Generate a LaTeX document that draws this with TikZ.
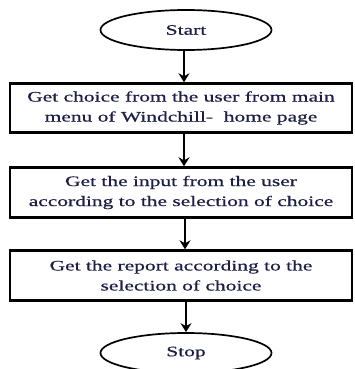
\documentclass[tikz,border=0pt]{standalone}
\usepackage{fontspec}
\setmainfont{Liberation Serif}
\newfontfamily\widefont[FakeStretch=1.48,FakeBold=0.6]{Liberation Serif}
\usetikzlibrary{shapes.geometric,arrows.meta}
\definecolor{txt}{RGB}{28,30,70}
\tikzset{
  x=1pt,y=1pt,
  term/.style={ellipse,draw=black,line width=1.7pt,minimum width=171pt,minimum height=40pt,inner sep=0pt,text=txt,font=\widefont\fontsize{14.5}{20}\selectfont},
  procbox/.style={rectangle,draw=black,line width=2.4pt,minimum width=342pt,inner sep=0pt,text=txt,font=\widefont\fontsize{14.5}{20}\selectfont,align=center},
  arr/.style={line width=1.8pt,-{Stealth[length=9pt,width=11pt,inset=3pt]}},
}
\begin{document}
\begin{tikzpicture}
\useasboundingbox (0,0) rectangle (354,-369);
\clip (0,0) rectangle (354,-369);
\node[term] (start) at (186,-30) {Start};
\node[procbox,minimum height=49pt] (b1) at (181,-108) {Get choice from the user from main\\menu of Windchill-\ \ home page};
\node[procbox,minimum height=50pt] (b2) at (181,-192.5) {Get the input from the user\\according to the selection of choice};
\node[procbox,minimum height=50pt] (b3) at (181,-275.5) {Get the report according to the\\selection of choice};
\node[term] (stop) at (186,-353) {Stop};
\draw[arr] ([xshift=-2pt]start.south) -- ([xshift=-2pt]start.south |- b1.north);
\draw[arr] ([xshift=3pt]b1.south) -- ([xshift=3pt]b1.south |- b2.north);
\draw[arr] ([xshift=4pt]b2.south) -- ([xshift=4pt]b2.south |- b3.north);
\draw[arr] ([xshift=5pt]b3.south) -- ([xshift=5pt]b3.south |- stop.north);
\end{tikzpicture}
\end{document}
